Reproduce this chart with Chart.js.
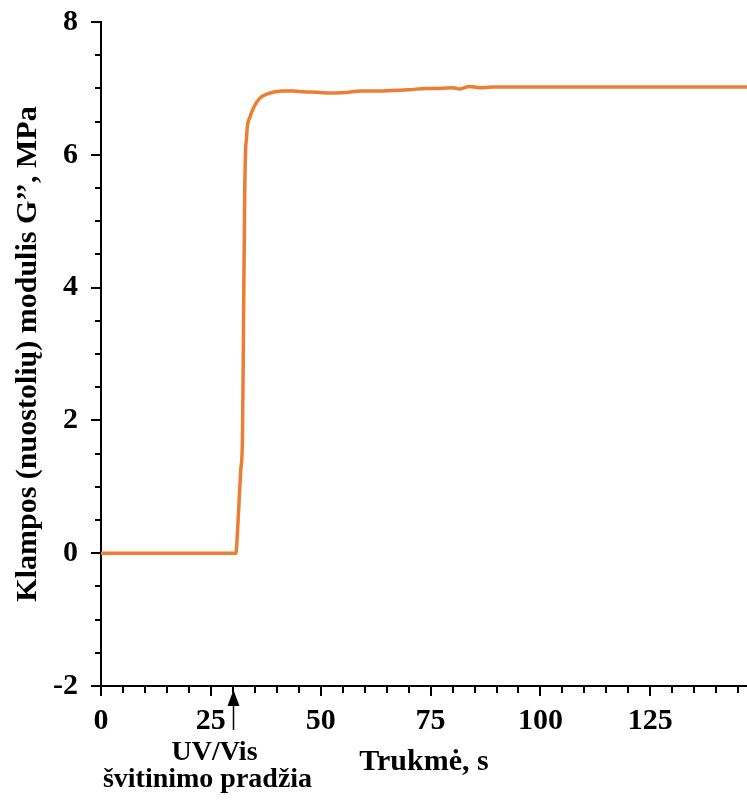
<!DOCTYPE html>
<html>
<head>
<meta charset="utf-8">
<script src="https://cdn.jsdelivr.net/npm/chart.js@4.4.0/dist/chart.umd.min.js"></script>
<style>
  body { margin: 0; background: #fff; }
  canvas { display: block; }
</style>
</head>
<body>
<canvas id="chart" width="747" height="803"></canvas>
<script>
// Time (s) and loss modulus G'' (MPa)
const times = [0, 5, 10, 15, 20, 25, 30, 30.7, 31.0, 31.4, 31.8, 32.2, 32.45, 32.7, 32.9, 33.1, 33.3, 33.9,
  34.8, 36.1, 38.0, 41.1, 43.6, 46, 49.8, 52, 55.8, 59.1, 62, 66.4, 70, 74, 77, 80, 81.6, 83.9, 86.1,
  89.1, 95, 100, 105, 110, 115, 120, 125, 130, 135, 140, 147];
const modulus = [0, 0, 0, 0, 0, 0, 0, 0, 0.25, 0.75, 1.25, 1.75, 3.6, 5.4, 6.07, 6.24, 6.42, 6.57,
  6.72, 6.85, 6.92, 6.96, 6.96, 6.95, 6.94, 6.93, 6.94, 6.96, 6.96, 6.97, 6.98, 7.00, 7.00, 7.01, 6.99, 7.03, 7.01,
  7.02, 7.02, 7.02, 7.02, 7.02, 7.02, 7.02, 7.02, 7.02, 7.02, 7.02, 7.02];

const xTickLabels = [0, 25, 50, 75, 100, 125];
const yTickLabels = [-2, 0, 2, 4, 6, 8];
const uvStart = 30;

const serif = '"Liberation Serif", "Times New Roman", serif';
const font30 = { family: serif, size: 30, weight: 'bold' };

// ticks with long majors / short minors, plus the UV/Vis arrow and note
const decorations = {
  id: 'decorations',
  afterDraw(chart) {
    const ctx = chart.ctx;
    const xs = chart.scales.x, ys = chart.scales.y;
    const area = chart.chartArea;
    ctx.save();
    ctx.strokeStyle = '#000';
    ctx.lineWidth = 2;
    for (let v = 0; v <= 145; v += 5) {
      const px = Math.round(xs.getPixelForValue(v));
      const len = xTickLabels.includes(v) ? 10 : 7;
      ctx.beginPath();
      ctx.moveTo(px, area.bottom);
      ctx.lineTo(px, area.bottom + len);
      ctx.stroke();
    }
    for (let v = -2; v <= 8; v += 0.5) {
      const py = Math.round(ys.getPixelForValue(v));
      const len = yTickLabels.includes(v) ? 10 : 6;
      ctx.beginPath();
      ctx.moveTo(area.left, py);
      ctx.lineTo(area.left - len, py);
      ctx.stroke();
    }

    // arrow marking start of irradiation
    const ax = Math.round(xs.getPixelForValue(uvStart)) + 0.5;
    ctx.lineWidth = 1.5;
    ctx.beginPath();
    ctx.moveTo(ax, area.bottom + 18);
    ctx.lineTo(ax, area.bottom + 44);
    ctx.stroke();
    ctx.fillStyle = '#000';
    ctx.beginPath();
    ctx.moveTo(ax, area.bottom + 4);
    ctx.lineTo(ax - 6, area.bottom + 20);
    ctx.lineTo(ax + 6, area.bottom + 20);
    ctx.closePath();
    ctx.fill();

    ctx.font = 'bold 28px ' + serif;
    ctx.textAlign = 'center';
    ctx.textBaseline = 'alphabetic';
    ctx.fillText('UV/Vis', ax - 19, area.bottom + 74);
    ctx.fillText('švitinimo pradžia', ax - 26, area.bottom + 101);
    ctx.restore();
  }
};

new Chart(document.getElementById('chart').getContext('2d'), {
  type: 'line',
  data: {
    datasets: [{
      data: times.map((t, i) => ({ x: t, y: modulus[i] })),
      borderColor: '#ED7D31',
      borderWidth: 3.5,
      pointRadius: 0,
      cubicInterpolationMode: 'monotone',
      fill: false
    }]
  },
  options: {
    responsive: false,
    animation: false,
    layout: { padding: { top: 22, right: 0, left: 0, bottom: 0 } },
    plugins: { legend: { display: false }, tooltip: { enabled: false } },
    scales: {
      x: {
        type: 'linear',
        min: 0,
        max: 147,
        afterFit(scale) { scale.height = 117; scale.paddingLeft = 0; scale.paddingRight = 0; },
        afterBuildTicks(scale) { scale.ticks = xTickLabels.map(v => ({ value: v })); },
        ticks: { color: '#000', font: font30, padding: 17, maxRotation: 0, autoSkip: false },
        grid: { display: false, drawTicks: false },
        border: { display: true, color: '#000', width: 2 },
        title: {
          display: true,
          text: 'Trukmė, s',
          color: '#000',
          font: font30,
          padding: { top: 0, bottom: 23 }
        }
      },
      y: {
        min: -2,
        max: 8,
        afterFit(scale) { scale.width = 101; scale.paddingTop = 0; scale.paddingBottom = 0; },
        afterBuildTicks(scale) { scale.ticks = yTickLabels.map(v => ({ value: v })); },
        ticks: { color: '#000', font: font30, padding: 23 },
        grid: { display: false, drawTicks: false },
        border: { display: true, color: '#000', width: 2 },
        title: {
          display: true,
          text: 'Klampos (nuostolių) modulis G’’, MPa',
          color: '#000',
          font: font30,
          padding: { top: 10, bottom: 0 }
        }
      }
    }
  },
  plugins: [decorations]
});
</script>
</body>
</html>
